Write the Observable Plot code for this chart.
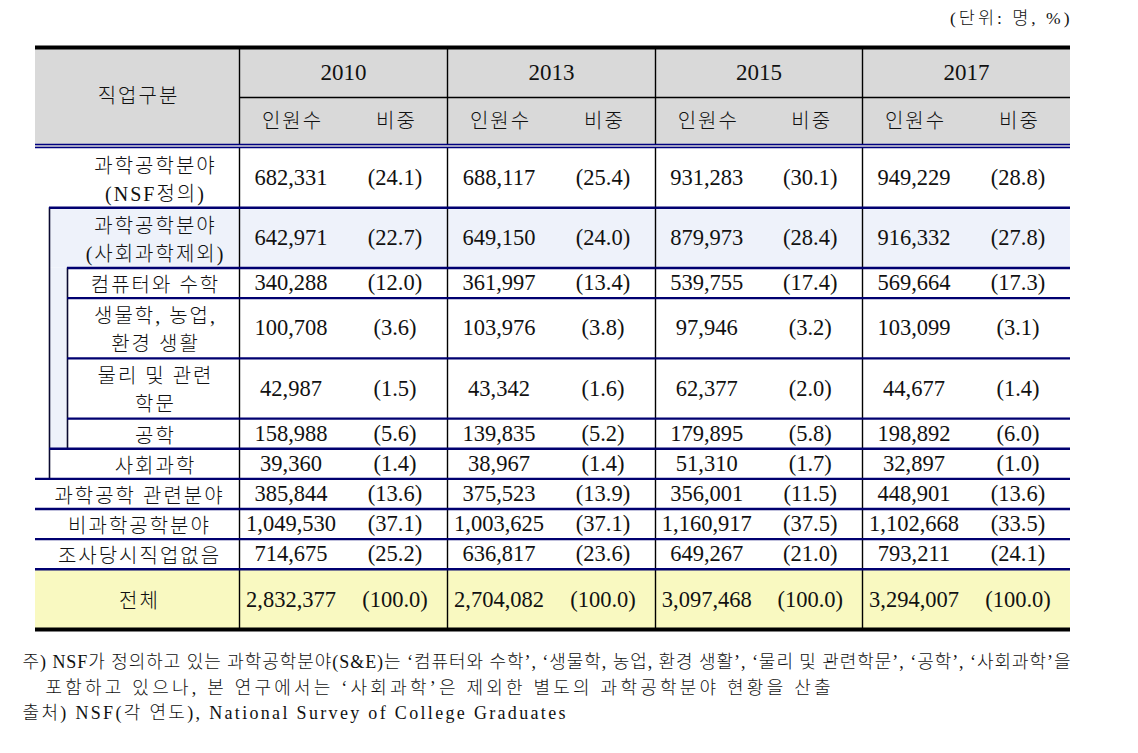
<!DOCTYPE html>
<html><head><meta charset="utf-8">
<script src="https://cdn.jsdelivr.net/npm/d3@7"></script>
<script src="https://cdn.jsdelivr.net/npm/@observablehq/plot@0.6"></script>
<style>
body{margin:0;background:#fff;}
svg{display:block}
g[font-size="20"] text{letter-spacing:2px}
g[font-size="17.5"] text{letter-spacing:3px}
</style>
</head><body><div id="chart"></div>
<script>
// ---------- data ----------
const years = ["2010", "2013", "2015", "2017"];
const subHeaders = ["인원수", "비중"];
const headerLabel = "직업구분";
const categories = [
  "과학공학분야\n(NSF정의)",
  "과학공학분야\n(사회과학제외)",
  "컴퓨터와 수학",
  "생물학, 농업,\n환경 생활",
  "물리 및 관련\n학문",
  "공학",
  "사회과학",
  "과학공학 관련분야",
  "비과학공학분야",
  "조사당시직업없음",
  "전체"
];
const count2010 = [682331, 642971, 340288, 100708, 42987, 158988, 39360, 385844, 1049530, 714675, 2832377];
const share2010 = [24.1, 22.7, 12.0, 3.6, 1.5, 5.6, 1.4, 13.6, 37.1, 25.2, 100.0];
const count2013 = [688117, 649150, 361997, 103976, 43342, 139835, 38967, 375523, 1003625, 636817, 2704082];
const share2013 = [25.4, 24.0, 13.4, 3.8, 1.6, 5.2, 1.4, 13.9, 37.1, 23.6, 100.0];
const count2015 = [931283, 879973, 539755, 97946, 62377, 179895, 51310, 356001, 1160917, 649267, 3097468];
const share2015 = [30.1, 28.4, 17.4, 3.2, 2.0, 5.8, 1.7, 11.5, 37.5, 21.0, 100.0];
const count2017 = [949229, 916332, 569664, 103099, 44677, 198892, 32897, 448901, 1102668, 793211, 3294007];
const share2017 = [28.8, 27.8, 17.3, 3.1, 1.4, 6.0, 1.0, 13.6, 33.5, 24.1, 100.0];
const unitNote = "(단위: 명, %)";
const notes = [
  "주) NSF가 정의하고 있는 과학공학분야(S&E)는 ‘컴퓨터와 수학’, ‘생물학, 농업, 환경 생활’, ‘물리 및 관련학문’, ‘공학’, ‘사회과학’을",
  "포함하고 있으나, 본 연구에서는 ‘사회과학’은 제외한 별도의 과학공학분야 현황을 산출",
  "출처) NSF(각 연도), National Survey of College Graduates"
];
// hierarchy level of each category (0 = top, 1 = sub, 2 = sub-sub)
const level = [0, 1, 2, 2, 2, 2, 1, 0, 0, 0, 0];
// number of text lines each row holds
const rowLines = [2, 2, 1, 2, 2, 1, 1, 1, 1, 1, 2];

// ---------- layout ----------
const W = 1138, H = 753;
const colEdges = [35, 239, 447, 655, 862, 1070];
const levelX = [35, 49, 67];
const tableTop = 47, headMid = 97, headBot = 144, bodyTop = 147, tableBot = 629;
const unit = (tableBot - bodyTop) / d3.sum(rowLines);
const rowTop = [], rowBot = [];
{ let y = bodyTop; rowLines.forEach((n, i) => { rowTop.push(y); y += n * unit; rowBot.push(y); }); }
const labelCx = categories.map((c, i) => i <= 6 ? 155 : 139);
const noteX = [22, 45, 22];
const noteLen = [1048, 785, 543];

const counts = [count2010, count2013, count2015, count2017];
const shares = [share2010, share2013, share2015, share2017];
const fmtN = d3.format(",");
const fmtP = d => `(${d3.format(".1f")(d)})`;

// cells
const numCells = [];
years.forEach((yr, j) => {
  const L = colEdges[j + 1], R = colEdges[j + 2];
  const half = (R - L) / 2;
  categories.forEach((c, i) => {
    const cy = (rowTop[i] + rowBot[i]) / 2;
    numCells.push({x: L + half / 2 - 0.5, y: cy, t: fmtN(counts[j][i])});
    numCells.push({x: L + half * 1.5 - 0.5, y: cy, t: fmtP(shares[j][i])});
  });
});
const yearCells = years.map((yr, j) => ({x: (colEdges[j + 1] + colEdges[j + 2]) / 2, y: (tableTop + headMid) / 2, t: yr}));
const subCells = years.flatMap((yr, j) => {
  const L = colEdges[j + 1], R = colEdges[j + 2], half = (R - L) / 2;
  return subHeaders.map((s, k) => ({x: L + half * (k + 0.5) + 1, y: (headMid + headBot) / 2 + 1, t: s}));
});
const labelCells = categories.map((c, i) => ({x: labelCx[i], y: (rowTop[i] + rowBot[i]) / 2, t: c}));

// lines
const right = colEdges[colEdges.length - 1];
const navyLines = rowTop.slice(1).map((y, k) => ({y, x1: levelX[level[k + 1]], x2: right}));
const vHead = colEdges.slice(1, -1).map(x => ({x, y1: tableTop, y2: headBot}));
const vBody = colEdges.slice(1, -1).map(x => ({x, y1: bodyTop, y2: tableBot}));
const vLeft = [1, 2].map(lv => {
  const idx = level.map((l, i) => l >= lv ? i : -1).filter(i => i >= 0);
  return {x: levelX[lv], y1: rowTop[idx[0]], y2: rowBot[idx[idx.length - 1]]};
});
const blueRects = [
  {x1: levelX[1], x2: right, y1: rowTop[1], y2: rowBot[1]},
  {x1: levelX[1], x2: levelX[2], y1: rowTop[2], y2: rowBot[5]}
];
const last = categories.length - 1;

const FONT = "'Liberation Serif', 'Noto Sans CJK KR', serif";
const KFONT = "'Liberation Serif', 'Noto Sans CJK KR', sans-serif";

const plot = Plot.plot({
  width: W, height: H, margin: 0,
  x: {domain: [0, W], range: [0, W], axis: null},
  y: {domain: [0, H], range: [0, H], axis: null},
  style: {background: "#fff", fontFamily: FONT},
  marks: [
    Plot.rect([{x1: colEdges[0], x2: right, y1: tableTop, y2: headBot + 3}], {x1: "x1", x2: "x2", y1: "y1", y2: "y2", fill: "#d9d9d9"}),
    Plot.rect(blueRects, {x1: "x1", x2: "x2", y1: "y1", y2: "y2", fill: "#eef2fa"}),
    Plot.rect([{x1: colEdges[0], x2: right, y1: rowTop[last], y2: rowBot[last]}], {x1: "x1", x2: "x2", y1: "y1", y2: "y2", fill: "#f9f9c1"}),
    Plot.ruleX(vHead.concat(vBody), {x: "x", y1: "y1", y2: "y2", stroke: "#000", strokeWidth: 1.4}),
    Plot.ruleX(vLeft, {x: "x", y1: "y1", y2: "y2", stroke: "#0a0a30", strokeWidth: 1.6}),
    Plot.ruleY([{y: headMid, x1: colEdges[1], x2: right}], {y: "y", x1: "x1", x2: "x2", stroke: "#000", strokeWidth: 1.4}),
    Plot.ruleY([{y: headBot, x1: colEdges[0], x2: right}, {y: headBot + 3, x1: colEdges[0], x2: right}], {y: "y", x1: "x1", x2: "x2", stroke: "#000080", strokeWidth: 1.3}),
    Plot.ruleY(navyLines, {y: "y", x1: "x1", x2: "x2", stroke: "#000070", strokeWidth: 2.4}),
    Plot.ruleY([{y: tableTop, x1: colEdges[0], x2: right}, {y: tableBot, x1: colEdges[0], x2: right}], {y: "y", x1: "x1", x2: "x2", stroke: "#000", strokeWidth: 4}),
    Plot.text([{x: (colEdges[0] + colEdges[1]) / 2 + 1, y: (tableTop + headBot) / 2 + 1, t: headerLabel}], {x: "x", y: "y", text: "t", fontSize: 20, fontWeight: 300, fontFamily: KFONT, fill: "#111"}),
    Plot.text(subCells, {x: "x", y: "y", text: "t", fontSize: 20, fontWeight: 300, fontFamily: KFONT, fill: "#111"}),
    Plot.text(yearCells, {x: "x", y: "y", text: "t", fontSize: 23, fill: "#111"}),
    Plot.text(labelCells, {x: "x", y: "y", text: "t", fontSize: 20, fontWeight: 300, lineHeight: 1.4, fontFamily: KFONT, fill: "#111"}),
    Plot.text(numCells, {x: "x", y: "y", text: "t", fontSize: 22.5, fill: "#111"}),
    Plot.text([{x: right + 2, y: 18, t: unitNote}], {x: "x", y: "y", text: "t", fontSize: 17.5, fontWeight: 300, textAnchor: "end", fontFamily: KFONT, fill: "#111"}),
    Plot.text(notes.map((t, k) => ({x: noteX[k], y: 662 + k * 25.5, t})), {x: "x", y: "y", text: "t", fontSize: 18, fontWeight: 300, textAnchor: "start", fontFamily: KFONT, fill: "#111"})
  ]
});
// stretch footnote lines to the measured line lengths
d3.select(plot).selectAll('g[font-size="18"] text').each(function(d, i) {
  if (noteLen[i]) { this.setAttribute("textLength", noteLen[i]); this.setAttribute("lengthAdjust", "spacing"); }
});
document.getElementById("chart").appendChild(plot);
</script>
</body></html>
